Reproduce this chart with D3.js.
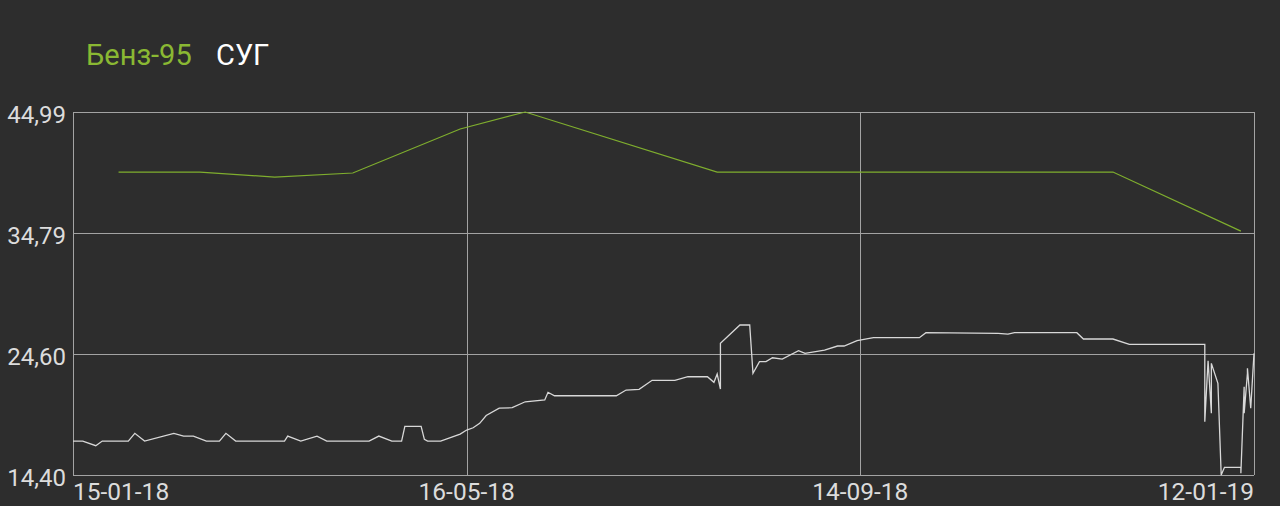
<!DOCTYPE html>
<html><head><meta charset="utf-8">
<script src="https://cdn.jsdelivr.net/npm/d3@7"></script>
<style>
html,body{margin:0;padding:0;background:#2d2d2d;}
svg{display:block;}
</style></head>
<body>
<svg id="chart" width="1280" height="506"></svg>
<script>
// ---- data ----
const seriesNames = ["Бенз-95", "СУГ"];
const xTickDates = ["2018-01-15", "2018-05-16", "2018-09-14", "2019-01-12"];
const xTickLabels = ["15-01-18", "16-05-18", "14-09-18", "12-01-19"];
const yTickValues = [14.40, 24.60, 34.79, 44.99];
const yTickLabels = ["14,40", "24,60", "34,79", "44,99"];

const benzDates = ["2018-01-29","2018-02-23","2018-03-18","2018-04-11","2018-05-14","2018-06-03","2018-08-01","2018-11-30","2019-01-08"];
const benzValues = [39.93, 39.93, 39.51, 39.85, 43.56, 44.99, 39.93, 39.93, 34.95];

const sugDates = [
 "2018-01-15","2018-01-18","2018-01-22","2018-01-24","2018-02-01","2018-02-03","2018-02-06","2018-02-15","2018-02-18","2018-02-21",
 "2018-02-25","2018-03-01","2018-03-03","2018-03-06","2018-03-21","2018-03-22","2018-03-26","2018-03-31","2018-04-03","2018-04-16",
 "2018-04-19","2018-04-23","2018-04-26","2018-04-27","2018-05-02","2018-05-03","2018-05-04","2018-05-08","2018-05-14","2018-05-16",
 "2018-05-18","2018-05-20","2018-05-22","2018-05-26","2018-05-30","2018-06-03","2018-06-09","2018-06-10","2018-06-12","2018-07-01",
 "2018-07-04","2018-07-08","2018-07-12","2018-07-19","2018-07-23","2018-07-29","2018-07-31","2018-08-01","2018-08-02","2018-08-02",
 "2018-08-08","2018-08-11","2018-08-12","2018-08-14","2018-08-16","2018-08-18","2018-08-21","2018-08-26","2018-08-28","2018-09-03",
 "2018-09-07","2018-09-09","2018-09-13","2018-09-18","2018-10-02","2018-10-04","2018-10-26","2018-10-29","2018-10-31","2018-11-19",
 "2018-11-21","2018-11-30","2018-12-05","2018-12-28","2018-12-28","2018-12-29","2018-12-30","2018-12-30","2019-01-01","2019-01-02",
 "2019-01-03","2019-01-08","2019-01-08","2019-01-09","2019-01-09","2019-01-10","2019-01-10","2019-01-11","2019-01-12"
];
const sugValues = [
 17.26,17.26,16.87,17.26,17.26,17.91,17.26,17.91,17.68,17.68,
 17.26,17.26,17.91,17.26,17.26,17.68,17.26,17.68,17.26,17.26,
 17.68,17.26,17.26,18.50,18.50,17.40,17.26,17.26,17.85,18.19,
 18.38,18.75,19.41,20.04,20.07,20.57,20.72,21.37,21.08,21.08,
 21.56,21.62,22.38,22.38,22.68,22.68,22.21,22.91,21.64,25.50,
 27.04,27.04,22.97,23.95,23.95,24.28,24.17,24.87,24.65,24.93,
 25.27,25.27,25.72,25.97,25.97,26.39,26.34,26.28,26.39,26.39,
 25.86,25.86,25.41,25.41,18.89,24.03,19.60,23.81,22.13,14.40,
 15.05,15.05,14.54,21.84,19.60,22.97,23.39,20.02,24.65
];

// ---- layout ----
const W = 1280, H = 506;
const M = {left: 73, right: 26, top: 112, bottom: 31};
const svg = d3.select("#chart");
const parse = d3.utcParse("%Y-%m-%d");
const font = "Roboto, 'Noto Sans', sans-serif";

// x labels are evenly spaced across the plot: piecewise time scale
const plotW = W - M.right - M.left;
const x = d3.scaleUtc()
  .domain(xTickDates.map(parse))
  .range(xTickDates.map((d, i) => M.left + plotW * i / (xTickDates.length - 1)));
const y = d3.scaleLinear()
  .domain([yTickValues[0], yTickValues[3]])
  .range([H - M.bottom, M.top]);

const gridColor = "#a3a3a3";
const textColor = "#dcdcdc";

// horizontal grid / frame
const gy = svg.append("g");
gy.selectAll("line").data(yTickValues).join("line")
  .attr("x1", M.left).attr("x2", W - M.right)
  .attr("y1", d => Math.round(y(d)) + 0.5).attr("y2", d => Math.round(y(d)) + 0.5)
  .attr("stroke", gridColor).attr("stroke-width", 1);
// vertical grid / frame
const gx = svg.append("g");
gx.selectAll("line").data(xTickDates).join("line")
  .attr("x1", d => Math.round(x(parse(d))) + 0.5).attr("x2", d => Math.round(x(parse(d))) + 0.5)
  .attr("y1", M.top).attr("y2", H - M.bottom)
  .attr("stroke", gridColor).attr("stroke-width", 1);

// y labels
svg.append("g").selectAll("text").data(yTickValues).join("text")
  .attr("x", 66).attr("y", d => y(d) + 3)
  .attr("dominant-baseline", "central")
  .attr("text-anchor", "end")
  .attr("fill", textColor)
  .attr("font-family", font).attr("font-size", 24)
  .text((d, i) => yTickLabels[i]);

// x labels
svg.append("g").selectAll("text").data(xTickDates).join("text")
  .attr("x", d => x(parse(d)))
  .attr("y", 500)
  .attr("text-anchor", (d, i) => i === 0 ? "start" : (i === xTickDates.length - 1 ? "end" : "middle"))
  .attr("fill", textColor)
  .attr("font-family", font).attr("font-size", 24.5)
  .text((d, i) => xTickLabels[i]);

// lines
const line = d3.line().x(d => x(d.date)).y(d => y(d.value));
const benz = benzDates.map((d, i) => ({date: parse(d), value: benzValues[i]}));
const sug = sugDates.map((d, i) => ({date: parse(d), value: sugValues[i]}));

svg.append("path").datum(benz)
  .attr("d", line).attr("fill", "none")
  .attr("stroke", "#7fae2e").attr("stroke-width", 1.2);
svg.append("path").datum(sug)
  .attr("d", line).attr("fill", "none")
  .attr("stroke", "#d8d8d8").attr("stroke-width", 1.3)
  .attr("stroke-linejoin", "miter");

// legend
const legendColors = ["#8ab833", "#ffffff"];
const lg = svg.append("g").attr("font-family", font).attr("font-size", 29);
lg.append("text").attr("x", 86).attr("y", 65).attr("fill", legendColors[0]).text(seriesNames[0]);
lg.append("text").attr("x", 216).attr("y", 65).attr("fill", legendColors[1]).text(seriesNames[1]);
</script>
</body></html>
